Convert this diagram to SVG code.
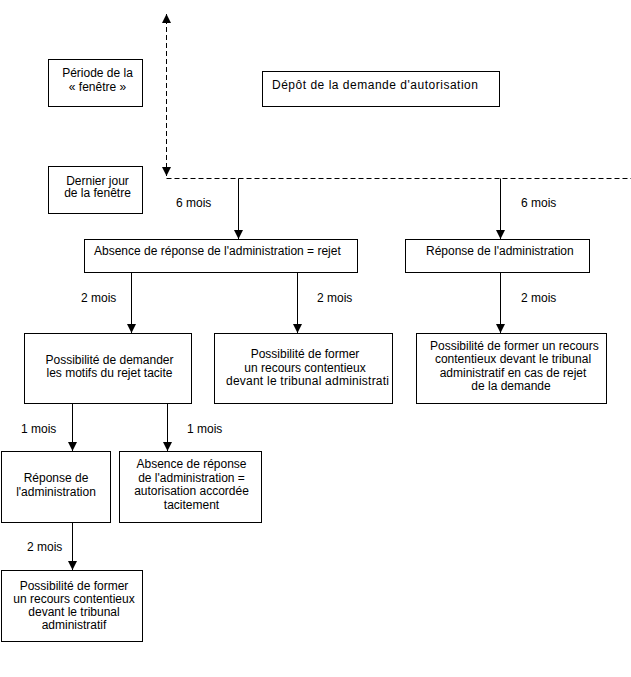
<svg xmlns="http://www.w3.org/2000/svg" width="631" height="677" viewBox="0 0 631 677">
<style>
rect.box{fill:#fff;stroke:#000;stroke-width:1}
text{font-family:"Liberation Sans",Arial,sans-serif;font-size:12px;fill:#000}
.c{text-anchor:middle}
.ln{stroke:#000;stroke-width:1;fill:none}
.dash{stroke:#000;stroke-width:1;fill:none;stroke-dasharray:5 3}
</style>
<defs>
<marker id="ah" markerUnits="userSpaceOnUse" markerWidth="10" markerHeight="10" viewBox="0 -5 10 10" refX="9" refY="0" orient="auto-start-reverse">
<path d="M0,-4.5 L9,0 L0,4.5 z" fill="#000"/>
</marker>
</defs>
<rect width="631" height="677" fill="#fff"/>
<g id="connectors">
<path class="dash" d="M166.5,176 V14" marker-start="url(#ah)" marker-end="url(#ah)"/>
<path class="dash" d="M166.5,178.5 H631"/>
<path class="ln" d="M238.5,178.5 V239" marker-end="url(#ah)"/>
<path class="ln" d="M500.5,178.5 V239" marker-end="url(#ah)"/>
<path class="ln" d="M131.5,272.5 V333" marker-end="url(#ah)"/>
<path class="ln" d="M297.5,272.5 V333" marker-end="url(#ah)"/>
<path class="ln" d="M500.5,272.5 V333" marker-end="url(#ah)"/>
<path class="ln" d="M72.5,403.5 V451" marker-end="url(#ah)"/>
<path class="ln" d="M167.5,403.5 V451" marker-end="url(#ah)"/>
<path class="ln" d="M72.5,522.5 V570" marker-end="url(#ah)"/>
<text x="176" y="206.5">6 mois</text>
<text x="521" y="206.5">6 mois</text>
<text x="81" y="301.5">2 mois</text>
<text x="317" y="301.5">2 mois</text>
<text x="521" y="301.5">2 mois</text>
<text x="21" y="432.5">1 mois</text>
<text x="187" y="432.5">1 mois</text>
<text x="27" y="550.5">2 mois</text>
</g>
<g id="periode">
<rect class="box" x="48.5" y="59.5" width="94" height="47"/>
<text class="c" x="97.5" y="77">Période de la</text>
<text class="c" x="97.5" y="90.5">« fenêtre »</text>
</g>
<g id="dernier-jour">
<rect class="box" x="48.5" y="166.5" width="94" height="47"/>
<text class="c" x="97.5" y="184.5">Dernier jour</text>
<text class="c" x="97.5" y="197">de la fenêtre</text>
</g>
<g id="depot">
<rect class="box" x="262.5" y="71.5" width="237" height="35"/>
<text x="272" y="89" textLength="206" lengthAdjust="spacing">Dépôt de la demande d'autorisation</text>
</g>
<g id="absence-rejet">
<rect class="box" x="84.5" y="239.5" width="273" height="33"/>
<text x="94" y="255">Absence de réponse de l'administration = rejet</text>
</g>
<g id="reponse-admin">
<rect class="box" x="405.5" y="239.5" width="184" height="33"/>
<text x="426" y="255">Réponse de l'administration</text>
</g>
<g id="motifs">
<rect class="box" x="24.5" y="333.5" width="167" height="70"/>
<text class="c" x="109.5" y="364">Possibilité de demander</text>
<text class="c" x="109.5" y="377">les motifs du rejet tacite</text>
</g>
<g id="recours-1">
<rect class="box" x="214.5" y="333.5" width="178" height="70"/>
<text class="c" x="305" y="358">Possibilité de former</text>
<text class="c" x="305" y="371.5">un recours contentieux</text>
<text x="226" y="385" textLength="163" lengthAdjust="spacing">devant le tribunal administrati</text>
</g>
<g id="recours-rejet">
<rect class="box" x="416.5" y="333.5" width="190" height="70"/>
<text x="430" y="349.5">Possibilité de former un recours</text>
<text class="c" x="513" y="363">contentieux devant le tribunal</text>
<text class="c" x="513" y="376.5">administratif en cas de rejet</text>
<text class="c" x="511" y="390">de la demande</text>
</g>
<g id="reponse-admin-2">
<rect class="box" x="1.5" y="451.5" width="109" height="71"/>
<text class="c" x="56" y="482">Réponse de</text>
<text class="c" x="56" y="495.5">l'administration</text>
</g>
<g id="autorisation-tacite">
<rect class="box" x="119.5" y="451.5" width="142" height="71"/>
<text class="c" x="191.5" y="468">Absence de réponse</text>
<text class="c" x="191.5" y="481.5">de l'administration =</text>
<text class="c" x="191.5" y="495">autorisation accordée</text>
<text class="c" x="191.5" y="508.5">tacitement</text>
</g>
<g id="recours-2">
<rect class="box" x="1.5" y="570.5" width="141" height="71"/>
<text class="c" x="74" y="589.5">Possibilité de former</text>
<text class="c" x="74" y="603">un recours contentieux</text>
<text class="c" x="74" y="616">devant le tribunal</text>
<text class="c" x="74" y="629">administratif</text>
</g>
</svg>
